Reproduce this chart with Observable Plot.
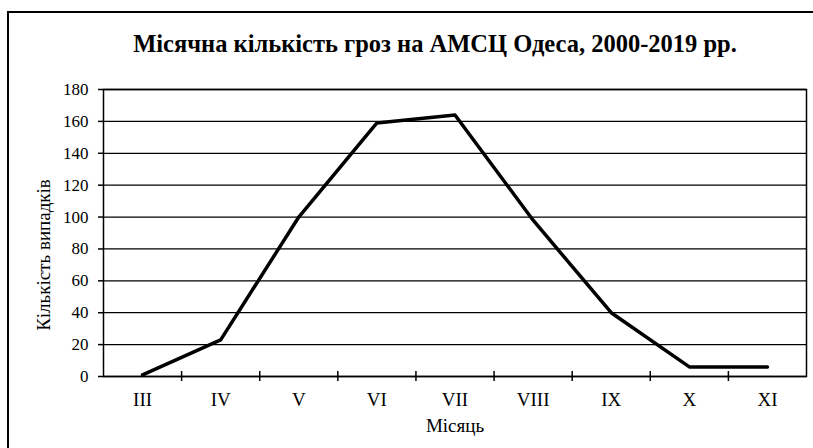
<!DOCTYPE html>
<html><head><meta charset="utf-8">
<script src="https://cdn.jsdelivr.net/npm/d3@7"></script>
<script src="https://cdn.jsdelivr.net/npm/@observablehq/plot@0.6"></script>
<style>
body{margin:0;background:#fff;}
#wrap{position:relative;width:813px;height:448px;overflow:hidden;background:#fff;}
#frame{position:absolute;left:7px;top:11px;width:900px;height:500px;border-top:2px solid #000;border-left:2px solid #000;}
#title{position:absolute;left:0;top:30px;width:870px;text-align:center;font-family:"Liberation Serif","Times New Roman",serif;font-weight:bold;font-size:24.5px;color:#000;white-space:nowrap;}
#chart{position:absolute;left:0;top:0;}
#chart svg{font-family:"Liberation Serif","Times New Roman",serif;}
</style></head><body>
<div id="wrap"><div id="frame"></div><div id="title"></div><div id="chart"></div></div>
<script>
const titleText = "Місячна кількість гроз на АМСЦ Одеса, 2000-2019 рр.";
const months = ["III","IV","V","VI","VII","VIII","IX","X","XI"];
const counts = [1, 23, 100, 159, 164, 98, 40, 6, 6];
const yTicks = [0, 20, 40, 60, 80, 100, 120, 140, 160, 180];
const xLabel = "Місяць";
const yLabel = "Кількість випадків";

document.getElementById("title").textContent = titleText;
const data = months.map((m, i) => ({i, m, v: counts[i]}));
const boundaries = months.slice(1).map((m, i) => i + 0.5);
const FF = "'Liberation Serif', 'Times New Roman', serif";

const chart = Plot.plot({
  width: 813, height: 448,
  marginLeft: 103, marginRight: 7, marginTop: 89, marginBottom: 72,
  style: {fontFamily: FF, fontSize: "17px", background: "transparent", color: "#000"},
  x: {domain: [-0.5, months.length - 0.5], axis: null},
  y: {domain: [0, 180], axis: null},
  marks: [
    Plot.gridY(yTicks, {stroke: "#000", strokeOpacity: 1, strokeWidth: 1.3}),
    Plot.frame({stroke: "#000", strokeWidth: 1.5}),
    Plot.axisY({ticks: yTicks, tickSize: 5, tickPadding: 10, label: null, strokeWidth: 1.5, fontSize: 17, fontFamily: FF}),
    Plot.axisX({ticks: data.map(d => d.i), tickSize: 0, tickPadding: 16, tickFormat: i => months[i], label: null, fontSize: 19, fontFamily: FF}),
    Plot.axisX({ticks: boundaries, tickSize: 10, dy: -5, tickFormat: () => "", label: null, strokeWidth: 1.5}),
    Plot.lineY(data, {x: "i", y: "v", stroke: "#000", strokeWidth: 3.5}),
    Plot.text([xLabel], {frameAnchor: "bottom", dy: 55, fontSize: 19, fontFamily: FF}),
    Plot.text([yLabel], {frameAnchor: "left", textAnchor: "middle", rotate: -90, dx: -60, dy: 22, fontSize: 19, fontFamily: FF})
  ]
});
document.getElementById("chart").appendChild(chart);
</script>
</body></html>
